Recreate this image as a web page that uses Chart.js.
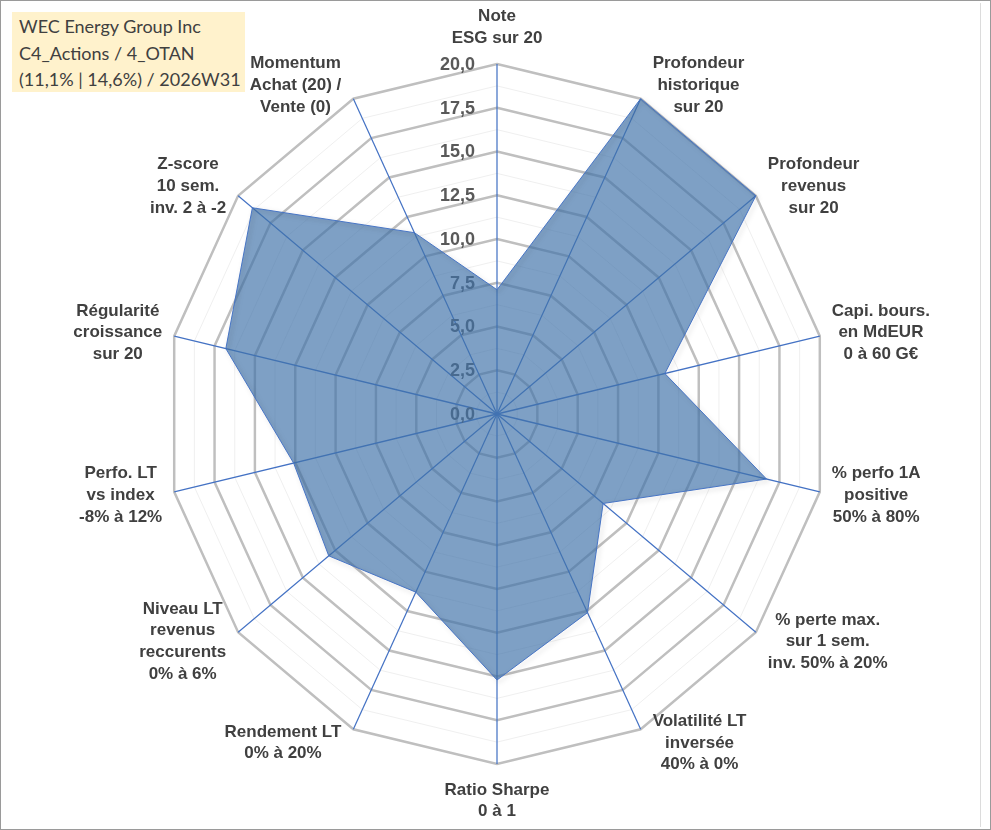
<!DOCTYPE html>
<html><head><meta charset="utf-8">
<script src="https://cdn.jsdelivr.net/npm/chart.js@4.4.1/dist/chart.umd.min.js"></script>
<style>
html,body{margin:0;padding:0;background:#fff;}
#wrap{position:absolute;left:0;top:0;width:991px;height:830px}
#frame{position:absolute;left:0;top:0;width:991px;height:830px;box-sizing:border-box;border:1px solid #9a9a9a;pointer-events:none}
#inner{position:absolute;left:980px;top:3px;width:1px;height:824px;background:#dcdcdc}
#title{position:absolute;left:12px;top:12px;width:233px;height:80px;background:#FFF2CC;font-family:Lato,"Open Sans",sans-serif;font-size:18px;color:#404040;line-height:26.5px;padding:1px 0 0 7px;box-sizing:border-box;white-space:nowrap}
</style></head><body>
<div id="wrap"><canvas id="c"></canvas></div>
<div id="inner"></div>
<div id="frame"></div>
<div id="title">WEC Energy Group Inc<br>C4_Actions / 4_OTAN<br>(11,1% | 14,6%) / 2026W31</div>
<script>
const categories = [
  ['Note', 'ESG sur 20'],
  ['Profondeur', 'historique', 'sur 20'],
  ['Profondeur', 'revenus', 'sur 20'],
  ['Capi. bours.', 'en MdEUR', '0 à 60 G€'],
  ['% perfo 1A', 'positive', '50% à 80%'],
  ['% perte max.', 'sur 1 sem.', 'inv. 50% à 20%'],
  ['Volatilité LT', 'inversée', '40% à 0%'],
  ['Ratio Sharpe', '0 à 1'],
  ['Rendement LT', '0% à 20%'],
  ['Niveau LT', 'revenus', 'reccurents', '0% à 6%'],
  ['Perfo. LT', 'vs index', '-8% à 12%'],
  ['Régularité', 'croissance', 'sur 20'],
  ['Z-score', '10 sem.', 'inv. 2 à -2'],
  ['Momentum', 'Achat (20) /', 'Vente (0)']
];
const scores = [7.1, 20, 20, 10.4, 16.7, 8.2, 12.6, 15.2, 11.3, 13.0, 12.6, 16.8, 18.9, 11.5];
const tickValues = [0, 2.5, 5, 7.5, 10, 12.5, 15, 17.5, 20];
const tickLabels = ['0,0', '2,5', '5,0', '7,5', '10,0', '12,5', '15,0', '17,5', '20,0'];

const SX = 0.946; // horizontal squeeze of the radar (elliptical plot)
const isMajor = v => tickValues.some(t => Math.abs(t - v) < 1e-6);

const radarText = {
  id: 'radarText',
  beforeDraw(chart) {
    const ctx = chart.ctx, r = chart.scales.r;
    ctx.save();
    ctx.translate(r.xCenter, 0);
    ctx.scale(SX, 1);
    ctx.translate(-r.xCenter, 0);
  },
  beforeDatasetsDraw(chart) {
    const ctx = chart.ctx, r = chart.scales.r;
    ctx.save();
    ctx.font = 'bold 18px "Liberation Sans", Arial, sans-serif';
    ctx.fillStyle = '#595959';
    ctx.textAlign = 'right';
    ctx.textBaseline = 'middle';
    tickValues.forEach((v, i) => {
      const y = r.yCenter - r.getDistanceFromCenterForValue(v);
      ctx.save();
      ctx.translate(r.xCenter - 22 / SX, y + 1);
      ctx.scale(1 / SX, 1);
      ctx.fillText(tickLabels[i], 0, 0);
      ctx.restore();
    });
    ctx.restore();
  },
  beforeDatasetDraw(chart) {
    const ctx = chart.ctx;
    ctx.save();
    ctx.shadowColor = 'rgba(0,0,0,0.28)';
    ctx.shadowBlur = 5;
    ctx.shadowOffsetX = 2;
    ctx.shadowOffsetY = 2;
  },
  afterDatasetDraw(chart) {
    chart.ctx.restore();
  },
  afterDraw(chart) {
    const ctx = chart.ctx, r = chart.scales.r;
    ctx.restore();
    const R = r.drawingArea;
    const LH = 21.7;
    ctx.save();
    ctx.font = 'bold 17px "Liberation Sans", Arial, sans-serif';
    ctx.fillStyle = '#404040';
    ctx.textAlign = 'center';
    ctx.textBaseline = 'middle';
    categories.forEach((lines, i) => {
      const a = r.getIndexAngle(i);
      const s = Math.sin(a), c = Math.cos(a);
      const vx = r.xCenter + s * R * SX;
      const vy = r.yCenter - c * R;
      const w = Math.max(...lines.map(l => ctx.measureText(l).width));
      const h = lines.length * LH;
      let cx, cy;
      if (Math.abs(s) < 0.01) {
        cx = vx; cy = vy - c * (h / 2 + 15);
      } else {
        cx = vx + Math.sign(s) * (w / 2 + 12);
        cy = vy - c * 15;
      }
      lines.forEach((l, j) => {
        ctx.fillText(l, cx, cy + (j - (lines.length - 1) / 2) * LH);
      });
    });
    ctx.restore();
  }
};

new Chart(document.getElementById('c'), {
  type: 'radar',
  data: {
    labels: categories.map(l => l.join(' ')),
    datasets: [{
      label: 'WEC Energy Group Inc',
      data: scores,
      backgroundColor: 'rgba(65,115,170,0.68)',
      borderColor: '#4472C4',
      borderWidth: 1,
      pointRadius: 0,
      pointHoverRadius: 0,
      fill: 'origin'
    }]
  },
  options: {
    responsive: true,
    maintainAspectRatio: false,
    animation: false,
    events: [],
    layout: { padding: { top: 64, bottom: 66, left: 147, right: 144 } },
    plugins: { legend: { display: false }, title: { display: false }, tooltip: { enabled: false } },
    scales: {
      r: {
        min: 0,
        max: 20,
        ticks: { display: false, stepSize: 1.25 },
        pointLabels: { display: false },
        grid: {
          color: ctx => isMajor(ctx.tick.value) ? '#BFBFBF' : '#EFEFEF',
          lineWidth: ctx => isMajor(ctx.tick.value) ? 2.6 : 1
        },
        angleLines: { color: '#4472C4', lineWidth: 1.3 }
      }
    }
  },
  plugins: [radarText]
});
</script>
</body></html>
